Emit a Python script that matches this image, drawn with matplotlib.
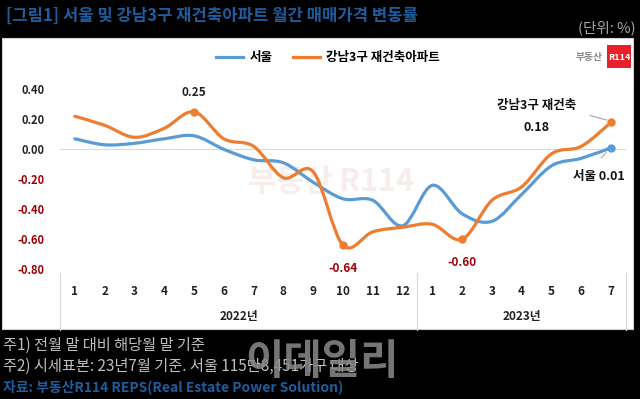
import numpy as np
import matplotlib
matplotlib.use("Agg")
import matplotlib.pyplot as plt
from matplotlib.path import Path
from matplotlib.patches import PathPatch, Rectangle
import matplotlib.transforms as mtransforms

plt.rcParams["font.family"] = ["Noto Sans CJK KR", "DejaVu Sans"]

# ── 데이터 ─────────────────────────────────────────
months = ["1", "2", "3", "4", "5", "6", "7", "8", "9", "10", "11", "12",
          "1", "2", "3", "4", "5", "6", "7"]
years = ["2022년", "2023년"]
seoul = [0.07, 0.03, 0.04, 0.07, 0.09, 0.00, -0.07, -0.09, -0.22, -0.33,
         -0.34, -0.51, -0.24, -0.43, -0.48, -0.30, -0.11, -0.06, 0.01]
gangnam = [0.22, 0.16, 0.08, 0.14, 0.25, 0.07, 0.02, -0.19, -0.15, -0.64,
           -0.55, -0.52, -0.50, -0.60, -0.34, -0.25, -0.03, 0.02, 0.18]
yticks = [0.40, 0.20, 0.00, -0.20, -0.40, -0.60, -0.80]

BLUE = "#5B9BD5"
ORANGE = "#ED7D31"
DARKRED = "#9C0006"
TITLE_BLUE = "#1F5C9E"


def smooth_path(x, y):
    """엑셀 '부드러운 선'처럼 Catmull-Rom -> 베지어 경로."""
    pts = np.column_stack([x, y]).astype(float)
    verts = [pts[0]]
    codes = [Path.MOVETO]
    n = len(pts)
    for i in range(n - 1):
        p0 = pts[i - 1] if i > 0 else pts[i]
        p1, p2 = pts[i], pts[i + 1]
        p3 = pts[i + 2] if i + 2 < n else pts[i + 1]
        c1 = p1 + (p2 - p0) / 6.0
        c2 = p2 - (p3 - p1) / 6.0
        verts += [c1, c2, p2]
        codes += [Path.CURVE4] * 3
    return Path(verts, codes)


fig = plt.figure(figsize=(6.4, 3.99), dpi=100)
fig.patch.set_facecolor("black")

W, H = 640, 399
def fx(px): return px / W
def fy(py): return 1 - py / H

# 흰 패널
fig.patches.append(Rectangle((fx(2), fy(329)), fx(633) - fx(2), fy(38) - fy(329),
                             transform=fig.transFigure, facecolor="white",
                             edgecolor="#d0d0d0", lw=0.8, zorder=-5))

ax = fig.add_axes([fx(60), fy(269.3), fx(626) - fx(60), fy(89.3) - fy(269.3)])
ax.set_facecolor("none")
ax.set_zorder(2)
x = np.arange(len(months))
ax.set_xlim(-0.5, len(months) - 0.5)
ax.set_ylim(-0.80, 0.40)
for s in ax.spines.values():
    s.set_visible(False)
ax.axhline(0, color="#d9d9d9", lw=0.8, zorder=1)

for ys, col, lab in [(seoul, BLUE, "서울"), (gangnam, ORANGE, "강남3구 재건축아파트")]:
    ax.add_patch(PathPatch(smooth_path(x, ys), facecolor="none", edgecolor=col,
                           lw=2.3, capstyle="round", joinstyle="round", zorder=3))
    ax.plot([], [], color=col, lw=2.3, label=lab)

# 표시 점
for i in [4, 9, 13, 18]:
    ax.plot(x[i], gangnam[i], "o", ms=5, color=ORANGE, zorder=4)
ax.plot(x[18], seoul[18], "o", ms=5, color=BLUE, zorder=4)

# 축 눈금
ax.set_yticks(yticks)
ax.set_yticklabels([f"{v:.2f}" for v in yticks], fontsize=8, fontweight="bold")
for t, v in zip(ax.get_yticklabels(), yticks):
    t.set_color(DARKRED if v < 0 else "#222222")
ax.tick_params(axis="y", length=0, pad=11)
ax.set_xticks(x)
ax.set_xticklabels(months, fontsize=8.5, fontweight="bold", color="#222222")
ax.tick_params(axis="x", length=0, pad=11)

# 연도 구분선과 라벨
trans = mtransforms.blended_transform_factory(ax.transData, ax.transAxes)
for xv in [-0.5, 11.5, 18.5]:
    ax.plot([xv, xv], [-0.02, -0.335], transform=trans, color="#d9d9d9",
            lw=0.8, clip_on=False)
ax.text(5.5, -0.26, years[0], transform=trans, ha="center", va="center",
        fontsize=8.5, fontweight="bold", color="#222222")
ax.text(15, -0.26, years[1], transform=trans, ha="center", va="center",
        fontsize=8.5, fontweight="bold", color="#222222")

# 데이터 라벨
ax.annotate(f"{gangnam[4]:.2f}", (x[4], gangnam[4]), xytext=(0, 14),
            textcoords="offset points", ha="center", va="center",
            fontsize=8.5, fontweight="bold", color="#222222")
for i in [9, 13]:
    ax.annotate(f"{gangnam[i]:.2f}", (x[i], gangnam[i]), xytext=(0, -17),
                textcoords="offset points", ha="center", va="center",
                fontsize=8.5, fontweight="bold", color=DARKRED)
ax.annotate("", (x[18] - 0.05, gangnam[18] + 0.01), xytext=(x[18] - 0.8, gangnam[18] + 0.05),
            arrowprops=dict(arrowstyle="-", color="#a6a6a6", lw=0.8))
ax.text(x[18] - 2.5, gangnam[18] + 0.115, "강남3구 재건축", ha="center", va="center",
        fontsize=9, fontweight="bold", color="#111111")
ax.text(x[18] - 2.5, gangnam[18] - 0.035, f"{gangnam[18]:.2f}", ha="center", va="center",
        fontsize=9, fontweight="bold", color="#111111")
ax.annotate("", (x[18] - 0.1, seoul[18] - 0.02), xytext=(x[18] - 0.4, seoul[18] - 0.08),
            arrowprops=dict(arrowstyle="-", color="#a6a6a6", lw=0.8))
ax.text(x[18] + 0.45, seoul[18] - 0.19, f"서울 {seoul[18]:.2f}", ha="right", va="center",
        fontsize=9, fontweight="bold", color="#111111")

# 워터마크
ax.text(8.6, -0.22, "부동산 R114", ha="center", va="center", fontsize=22,
        fontweight="bold", color="#f7eded", zorder=0)

# 범례
fig.legend(loc="center", bbox_to_anchor=(fx(328), fy(58)), ncol=2, frameon=False,
           prop={"size": 9, "weight": "bold"}, handlelength=2.2, columnspacing=1.6,
           handletextpad=0.5)

# 로고
fig.text(fx(603), fy(57), "부동산", ha="right", va="center", fontsize=7,
         color="#8c8c8c", fontweight="bold")
fig.patches.append(Rectangle((fx(607), fy(68)), fx(24), fy(45) - fy(68),
                             transform=fig.transFigure, facecolor="#e8202a",
                             edgecolor="none"))
fig.text(fx(619), fy(57), "R114", ha="center", va="center", fontsize=6.5,
         color="white", fontweight="bold")

# 제목과 주석
fig.text(fx(6), fy(16), "[그림1] 서울 및 강남3구 재건축아파트 월간 매매가격 변동률",
         ha="left", va="center", fontsize=12, fontweight="bold", color=TITLE_BLUE)
fig.text(fx(636), fy(28), "(단위: %)", ha="right", va="center", fontsize=10.5,
         color="#a6a6a6")
fig.text(fx(3), fy(345), "주1) 전월 말 대비 해당월 말 기준", ha="left", va="center",
         fontsize=11, color="#bfbfbf")
fig.text(fx(3), fy(366), "주2) 시세표본: 23년7월 기준. 서울 115만8,451가구 대상",
         ha="left", va="center", fontsize=11, color="#bfbfbf")
fig.text(fx(3), fy(387), "자료: 부동산R114 REPS(Real Estate Power Solution)",
         ha="left", va="center", fontsize=10, fontweight="bold", color=TITLE_BLUE)
fig.text(fx(322), fy(362), "이데일리", ha="center", va="center", fontsize=30,
         fontweight="bold", color="#8a8a8a", alpha=0.85)

fig.savefig("out.png", dpi=100, facecolor=fig.get_facecolor())
